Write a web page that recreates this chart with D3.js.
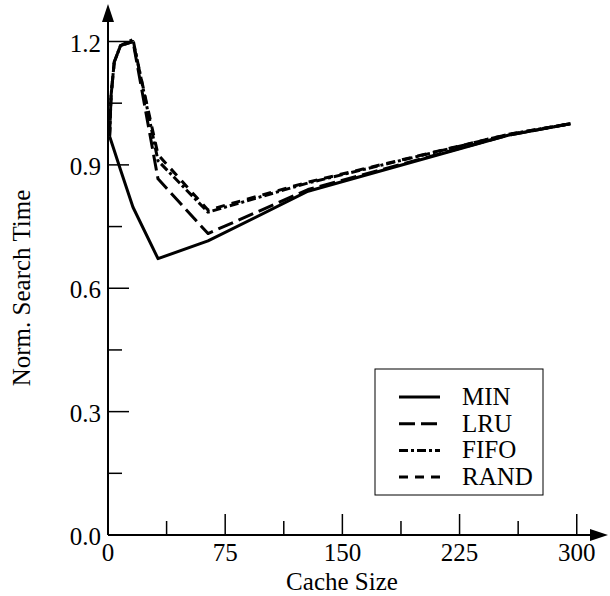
<!DOCTYPE html>
<html><head><meta charset="utf-8">
<script src="https://cdn.jsdelivr.net/npm/d3@7"></script>
<style>body{margin:0;background:#fff}svg{display:block}</style>
</head><body><svg id="c" width="610" height="596"></svg>
<script>
const cacheSizes = [1, 2, 4, 8, 16, 32, 64, 128, 256, 296];
const minValues  = [0.97, 0.958, 0.935, 0.888, 0.797, 0.672, 0.715, 0.836, 0.972, 1.0];
const lruValues  = [0.97, 1.07, 1.15, 1.19, 1.2, 0.866, 0.733, 0.84, 0.972, 1.0];
const fifoValues = [0.97, 1.07, 1.15, 1.19, 1.205, 0.91, 0.785, 0.856, 0.974, 1.0];
const randValues = [0.97, 1.07, 1.15, 1.19, 1.2, 0.925, 0.79, 0.858, 0.974, 1.0];
const seriesNames = ["MIN", "LRU", "FIFO", "RAND"];
const xTicks = [0, 75, 150, 225, 300];
const xMinorTicks = [37.5, 112.5, 187.5, 262.5];
const yTicks = [0.0, 0.3, 0.6, 0.9, 1.2];
const yMinorTicks = [0.15, 0.45, 0.75, 1.05];

const dashes = {MIN: null, LRU: "16,6", FIFO: "9,3,3,3", RAND: "9,7"};
const seriesValues = {MIN: minValues, LRU: lruValues, FIFO: fifoValues, RAND: randValues};

const FONT = "'Liberation Serif', 'Times New Roman', Times, 'DejaVu Serif', serif";
const svg = d3.select("#c").attr("font-family", FONT);
const x = d3.scaleLinear().domain([0, 300]).range([108, 576.75]);
const y = d3.scaleLinear().domain([0, 1.2]).range([535, 41.5]);
const FS = 25;

svg.append("line").attr("x1", 108).attr("y1", 535).attr("x2", 600).attr("y2", 535).attr("stroke", "#000").attr("stroke-width", 2);
svg.append("line").attr("x1", 108).attr("y1", 535).attr("x2", 108).attr("y2", 14).attr("stroke", "#000").attr("stroke-width", 2);
svg.append("path").attr("d", "M608,535 L590,529 L590,541 Z").attr("fill", "#000");
svg.append("path").attr("d", "M108,4 L102,22 L114,22 Z").attr("fill", "#000");

xTicks.filter(d => d > 0).forEach(d => {
  svg.append("line").attr("x1", x(d)).attr("x2", x(d)).attr("y1", 535).attr("y2", 514).attr("stroke", "#000").attr("stroke-width", 1.5);
});
xMinorTicks.forEach(d => {
  svg.append("line").attr("x1", x(d)).attr("x2", x(d)).attr("y1", 535).attr("y2", 521).attr("stroke", "#000").attr("stroke-width", 1.5);
});
xTicks.forEach(d => {
  svg.append("text").attr("font-family", FONT).attr("x", x(d)).attr("y", 561).attr("text-anchor", "middle").attr("font-size", FS).text(d);
});
yTicks.filter(d => d > 0).forEach(d => {
  svg.append("line").attr("x1", 108).attr("x2", 129).attr("y1", y(d)).attr("y2", y(d)).attr("stroke", "#000").attr("stroke-width", 1.5);
});
yMinorTicks.forEach(d => {
  svg.append("line").attr("x1", 108).attr("x2", 122).attr("y1", y(d)).attr("y2", y(d)).attr("stroke", "#000").attr("stroke-width", 1.5);
});
yTicks.forEach(d => {
  svg.append("text").attr("font-family", FONT).attr("x", 101).attr("y", y(d) + 10).attr("text-anchor", "end").attr("font-size", FS).text(d3.format(".1f")(d));
});

svg.append("text").attr("font-family", FONT).attr("x", 342).attr("y", 590).attr("text-anchor", "middle").attr("font-size", FS).text("Cache Size");
svg.append("text").attr("font-family", FONT).attr("transform", "translate(30,288) rotate(-90)").attr("text-anchor", "middle").attr("font-size", FS).text("Norm. Search Time");

const line = d3.line().x(d => x(d[0])).y(d => y(d[1]));
seriesNames.slice().reverse().forEach(name => {
  const pts = cacheSizes.map((c, i) => [c, seriesValues[name][i]]);
  svg.append("path").attr("d", line(pts)).attr("fill", "none").attr("stroke", "#000")
    .attr("stroke-width", 3).attr("stroke-dasharray", dashes[name]).attr("stroke-linejoin", "round");
});

svg.append("rect").attr("x", 375).attr("y", 369).attr("width", 168).attr("height", 126).attr("fill", "#fff").attr("stroke", "#000").attr("stroke-width", 1);
seriesNames.forEach((name, i) => {
  const ly = 397 + i * 26.7;
  svg.append("line").attr("x1", 399).attr("x2", 440).attr("y1", ly).attr("y2", ly).attr("stroke", "#000").attr("stroke-width", 3).attr("stroke-dasharray", dashes[name]);
  svg.append("text").attr("font-family", FONT).attr("x", 462).attr("y", ly + 8).attr("font-size", FS).text(name);
});
</script></body></html>
